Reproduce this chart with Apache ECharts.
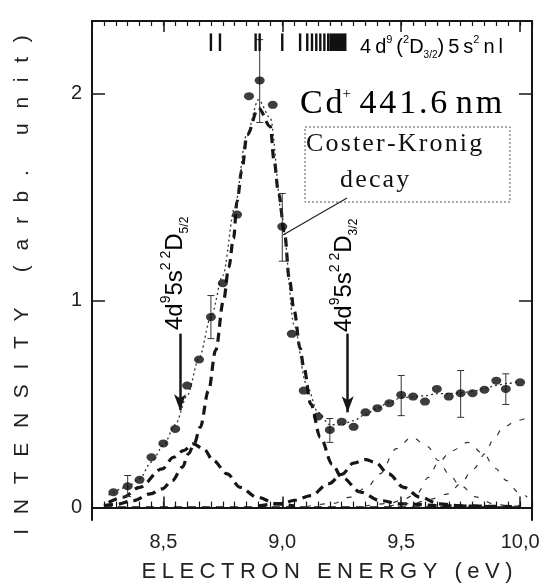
<!DOCTYPE html>
<html>
<head>
<meta charset="utf-8">
<script src="https://cdn.jsdelivr.net/npm/echarts@6/dist/echarts.min.js"></script>
<style>
    html, body { margin: 0; padding: 0; background: #fff; }
    #chart { width: 544px; height: 586px; }
</style>
</head>
<body>
<div id="chart"></div>
<script>
// measured spectrum (energy in eV, intensity in arb. units)
var pointE = [8.29, 8.35, 8.40, 8.45, 8.50, 8.55, 8.60, 8.65, 8.70, 8.75, 8.81, 8.86, 8.905, 8.96, 9.00, 9.04, 9.09, 9.15, 9.20, 9.25,
    9.30, 9.35, 9.40, 9.45, 9.50, 9.55, 9.60, 9.65, 9.70, 9.75, 9.80, 9.85, 9.90, 9.94, 10.00];
var pointI = [0.074, 0.103, 0.134, 0.243, 0.31, 0.38, 0.589, 0.715, 0.92, 1.084, 1.415, 1.987, 2.063, 1.945, 1.357, 0.839, 0.565, 0.44, 0.375, 0.415,
    0.39, 0.46, 0.48, 0.504, 0.544, 0.536, 0.512, 0.573, 0.536, 0.552, 0.552, 0.569, 0.613, 0.573, 0.605];

// error bars: energy, low, high
var errorBars = [[8.35, 0.053, 0.155], [8.70, 0.816, 1.024], [8.905, 1.86, 2.26], [9.00, 1.19, 1.517],
    [9.20, 0.315, 0.43], [9.50, 0.444, 0.638], [9.75, 0.436, 0.662], [9.94, 0.498, 0.646]];

// total fit (thin dotted)
var fitCurve = [[8.27, 0.06], [8.35, 0.10], [8.40, 0.14], [8.45, 0.22], [8.50, 0.30], [8.55, 0.40], [8.60, 0.54], [8.65, 0.72],
    [8.70, 0.92], [8.75, 1.12], [8.80, 1.45], [8.85, 1.80], [8.90, 1.97], [8.95, 1.88], [9.00, 1.40], [9.05, 0.88], [9.10, 0.60],
    [9.15, 0.46], [9.20, 0.40], [9.25, 0.40], [9.30, 0.42], [9.35, 0.45], [9.40, 0.48], [9.45, 0.51], [9.50, 0.53], [9.55, 0.535],
    [9.60, 0.54], [9.65, 0.55], [9.70, 0.55], [9.75, 0.555], [9.80, 0.56], [9.85, 0.575], [9.90, 0.59], [9.95, 0.60], [10.0, 0.61]];

// fitted components
var mainPeak = [[8.25, 0.01], [8.30, 0.015], [8.375, 0.034], [8.445, 0.066], [8.495, 0.09], [8.537, 0.13], [8.58, 0.195], [8.606, 0.26],
    [8.63, 0.31], [8.655, 0.388], [8.69, 0.565], [8.72, 0.76], [8.753, 1.0], [8.775, 1.16], [8.795, 1.3], [8.81, 1.48], [8.83, 1.63],
    [8.852, 1.8], [8.9, 1.93], [8.95, 1.84], [8.965, 1.68], [8.985, 1.515], [9.01, 1.32], [9.03, 1.1], [9.05, 0.95], [9.075, 0.77],
    [9.09, 0.68], [9.12, 0.5], [9.16, 0.34], [9.21, 0.21], [9.25, 0.146], [9.33, 0.074], [9.41, 0.034], [9.5, 0.018], [9.7, 0.008], [10.0, 0.004]];
var peak52 = [[8.27, 0.025], [8.33, 0.05], [8.40, 0.098], [8.495, 0.187], [8.543, 0.243], [8.585, 0.275], [8.625, 0.308], [8.67, 0.283],
    [8.71, 0.227], [8.768, 0.163], [8.823, 0.098], [8.894, 0.05], [8.978, 0.018], [9.05, 0.008]];
var peak32 = [[8.9, 0.008], [9.0, 0.02], [9.05, 0.035], [9.12, 0.058], [9.195, 0.115], [9.25, 0.16], [9.30, 0.215], [9.35, 0.232],
    [9.39, 0.219], [9.447, 0.163], [9.51, 0.098], [9.58, 0.05], [9.66, 0.018], [9.75, 0.008], [9.9, 0.003]];
var peakA = [[9.1, 0.005], [9.215, 0.02], [9.286, 0.05], [9.356, 0.098], [9.41, 0.163], [9.48, 0.285], [9.545, 0.34], [9.61, 0.295],
    [9.657, 0.227], [9.70, 0.163], [9.748, 0.106], [9.818, 0.05], [9.888, 0.018], [9.95, 0.008], [10.02, 0.004]];
var peakB = [[9.35, 0.008], [9.45, 0.02], [9.5, 0.035], [9.565, 0.066], [9.615, 0.146], [9.657, 0.22], [9.713, 0.275], [9.78, 0.315],
    [9.846, 0.26], [9.895, 0.19], [9.944, 0.13], [9.993, 0.074], [10.03, 0.05]];
var peakC = [[9.45, 0.008], [9.55, 0.02], [9.62, 0.04], [9.70, 0.066], [9.748, 0.114], [9.804, 0.187], [9.853, 0.26], [9.888, 0.33],
    [9.93, 0.388], [9.986, 0.42], [10.02, 0.43]];
var baseline = [[8.25, 0], [10.0, 0]];

// 4d9(2D3/2)5s2nl series limits: [from, to] in eV
var rydberg = [[8.70, 8.70], [8.738, 8.738], [8.888, 8.888], [8.905, 8.905], [9.0, 9.01], [9.075, 9.075], [9.105, 9.105],
    [9.125, 9.125], [9.143, 9.143], [9.16, 9.16], [9.177, 9.177], [9.193, 9.193], [9.203, 9.275]];

// arrows: energy, top, tip
var arrows = [[8.57, 0.84, 0.47], [9.275, 0.84, 0.46]];

var xTicksMajor = [8.5, 9.0, 9.5, 10.0];
var yTicks = [0, 1, 2];

var sans = 'Liberation Sans, Arial, sans-serif';
var serif = 'Liberation Serif, Times New Roman, serif';
var ink = '#161616';

function spaced(s, sp) {
    return s.split('').join(sp);
}

function pairs(xs, ys) {
    var out = [];
    for (var i = 0; i < xs.length; i++) out.push([xs[i], ys[i]]);
    return out;
}

function comp(data, thick) {
    return {
        type: 'line',
        data: data,
        smooth: 0.35,
        smoothMonotone: 'x',
        symbol: 'none',
        silent: true,
        lineStyle: thick
            ? {color: ink, width: 3.2, type: [9, 6]}
            : {color: '#333', width: 1.2, type: [5, 9]},
        z: 3
    };
}

var chart = echarts.init(document.getElementById('chart'));

var xBase = {min: 8.2, max: 10.05, splitLine: {show: false}, gridIndex: 0};
var yBase = {min: -0.06, max: 2.35, splitLine: {show: false}};

var hs = '\u200a';
var ts = '\u2009';

var option = {
    backgroundColor: '#fff',
    animation: false,
    grid: {left: 92, right: 12, top: 21, bottom: 66},
    xAxis: [
        Object.assign({}, xBase, {
            type: 'value', position: 'bottom', interval: 0.05,
            axisLine: {show: true, lineStyle: {color: ink, width: 2}},
            axisTick: {show: true, inside: true, length: 6, lineStyle: {color: ink, width: 1.2}},
            axisLabel: {
                color: '#222', fontFamily: sans, fontSize: 20, margin: 12,
                formatter: function (v) {
                    return Math.abs(v * 2 - Math.round(v * 2)) < 1e-6 ? v.toFixed(1).replace('.', ',') : '';
                }
            }
        }),
        Object.assign({}, xBase, {
            type: 'value', position: 'bottom',
            axisLine: {show: false},
            axisTick: {show: true, inside: true, length: 11, customValues: xTicksMajor, lineStyle: {color: ink, width: 1.5}},
            axisLabel: {show: false}
        }),
        Object.assign({}, xBase, {
            type: 'value', position: 'top', interval: 0.05,
            axisLine: {show: true, lineStyle: {color: ink, width: 2}},
            axisTick: {show: true, inside: true, length: 5, lineStyle: {color: ink, width: 1.2}},
            axisLabel: {show: false}
        }),
        Object.assign({}, xBase, {
            type: 'value', position: 'top',
            axisLine: {show: false},
            axisTick: {show: true, inside: true, length: 11, customValues: xTicksMajor, lineStyle: {color: ink, width: 1.5}},
            axisLabel: {show: false}
        })
    ],
    yAxis: [
        Object.assign({}, yBase, {
            type: 'value', position: 'left',
            axisLine: {show: true, lineStyle: {color: ink, width: 2}},
            axisTick: {show: true, inside: true, length: 13, customValues: yTicks, lineStyle: {color: ink, width: 1.5}},
            axisLabel: {color: '#222', fontFamily: sans, fontSize: 20, margin: 10, customValues: yTicks}
        }),
        Object.assign({}, yBase, {
            type: 'value', position: 'right',
            axisLine: {show: true, lineStyle: {color: ink, width: 2}},
            axisTick: {show: true, inside: true, length: 13, customValues: yTicks, lineStyle: {color: ink, width: 1.5}},
            axisLabel: {show: false}
        })
    ],
    series: [
        {
            type: 'line', data: baseline, symbol: 'none', silent: true,
            lineStyle: {color: ink, width: 2.5, type: [8, 6]}, z: 2
        },
        comp(mainPeak, true),
        comp(peak52, true),
        comp(peak32, true),
        comp(peakA, false),
        comp(peakB, false),
        comp(peakC, false),
        {
            type: 'line', data: fitCurve, smooth: 0.3, smoothMonotone: 'x', symbol: 'none', silent: true,
            lineStyle: {color: '#333', width: 1.3, type: [2, 3]}, z: 4
        },
        {
            type: 'custom',
            data: errorBars,
            encode: {x: 0, y: [1, 2]},
            silent: true,
            z: 5,
            renderItem: function (params, api) {
                var x = api.value(0);
                var lo = api.coord([x, api.value(1)]);
                var hi = api.coord([x, api.value(2)]);
                var c = 3.5;
                var st = {stroke: '#333', lineWidth: 1};
                return {
                    type: 'group',
                    children: [
                        {type: 'line', shape: {x1: lo[0], y1: lo[1], x2: hi[0], y2: hi[1]}, style: st},
                        {type: 'line', shape: {x1: lo[0] - c, y1: lo[1], x2: lo[0] + c, y2: lo[1]}, style: st},
                        {type: 'line', shape: {x1: hi[0] - c, y1: hi[1], x2: hi[0] + c, y2: hi[1]}, style: st}
                    ]
                };
            }
        },
        {
            type: 'custom',
            data: rydberg,
            encode: {x: [0, 1]},
            silent: true,
            z: 5,
            renderItem: function (params, api) {
                var a = api.coord([api.value(0), 2.29]);
                var b = api.coord([api.value(1), 2.205]);
                var w = Math.max(b[0] - a[0], 2.4);
                return {
                    type: 'rect',
                    shape: {x: a[0] - 1.2, y: a[1], width: w, height: b[1] - a[1]},
                    style: {fill: '#111'}
                };
            }
        },
        {
            type: 'scatter',
            data: pairs(pointE, pointI),
            symbol: 'circle',
            symbolSize: [10, 8],
            itemStyle: {color: '#0c0c0c'},
            silent: true,
            z: 6,
            markLine: {
                silent: true,
                symbol: ['none', 'arrow'],
                symbolSize: [9, 16],
                label: {show: false},
                lineStyle: {color: ink, width: 2.5, type: 'solid'},
                data: arrows.map(function (a) {
                    return [{coord: [a[0], a[1]]}, {coord: [a[0], a[2]]}];
                })
            }
        }
    ],
    graphic: [
        {
            type: 'text', x: 360, y: 47,
            style: {
                text: '{n|4' + ts + 'd}{sup|9}{n|' + ts + '(}{sup|2}{n|D}{sub|3/2}{n|)' + ts + '5' + ts + 's}{sup|2}{n|' + ts + 'n' + ts + 'l}',
                verticalAlign: 'middle',
                rich: {
                    n: {fontFamily: sans, fontSize: 20, color: '#222', lineHeight: 26, verticalAlign: 'middle'},
                    sup: {fontFamily: sans, fontSize: 11, color: '#222', verticalAlign: 'top'},
                    sub: {fontFamily: sans, fontSize: 10, color: '#222', verticalAlign: 'bottom'}
                }
            }
        },
        {
            type: 'text', x: 300, y: 104,
            style: {
                text: '{n|C' + hs + 'd}{sup|+}{n| ' + spaced('441.6', hs) + ' n' + hs + 'm}',
                verticalAlign: 'middle',
                rich: {
                    n: {fontFamily: serif, fontSize: 34, color: '#111', lineHeight: 34, verticalAlign: 'middle'},
                    sup: {fontFamily: serif, fontSize: 15, color: '#111', verticalAlign: 'top'}
                }
            }
        },
        {
            type: 'rect', shape: {x: 305, y: 127, width: 205, height: 75},
            style: {fill: 'none', stroke: '#555', lineWidth: 1, lineDash: [2, 2]}
        },
        {
            type: 'text', x: 306, y: 144,
            style: {text: spaced('Coster-Kronig', hs), fontFamily: serif, fontSize: 26, fill: '#111', verticalAlign: 'middle'}
        },
        {
            type: 'text', x: 340, y: 180,
            style: {text: spaced('decay', hs), fontFamily: serif, fontSize: 26, fill: '#111', verticalAlign: 'middle'}
        },
        {
            type: 'line', shape: {x1: 347, y1: 198, x2: 283, y2: 235},
            style: {stroke: '#222', lineWidth: 1.2}
        },
        {
            type: 'text', x: 175, y: 330, rotation: Math.PI / 2,
            style: {
                text: '{n|4d}{sup|9}{n|5s}{sup|2 2}{n|D}{sub|5/2}',
                verticalAlign: 'middle',
                rich: {
                    n: {fontFamily: sans, fontSize: 24, color: '#111', lineHeight: 31, verticalAlign: 'middle'},
                    sup: {fontFamily: sans, fontSize: 14, color: '#111', verticalAlign: 'top'},
                    sub: {fontFamily: sans, fontSize: 12, color: '#111', verticalAlign: 'bottom'}
                }
            }
        },
        {
            type: 'text', x: 344, y: 332, rotation: Math.PI / 2,
            style: {
                text: '{n|4d}{sup|9}{n|5s}{sup|2 2}{n|D}{sub|3/2}',
                verticalAlign: 'middle',
                rich: {
                    n: {fontFamily: sans, fontSize: 24, color: '#111', lineHeight: 31, verticalAlign: 'middle'},
                    sup: {fontFamily: sans, fontSize: 14, color: '#111', verticalAlign: 'top'},
                    sub: {fontFamily: sans, fontSize: 12, color: '#111', verticalAlign: 'bottom'}
                }
            }
        },
        {
            type: 'text', x: 327, y: 572,
            style: {
                text: spaced('ELECTRON ENERGY (eV)', '\u2005'),
                fontFamily: sans, fontSize: 22, fill: '#222', align: 'center', verticalAlign: 'middle'
            }
        },
        {
            type: 'text', x: 22, y: 285, rotation: Math.PI / 2,
            style: {
                text: spaced('INTENSITY (arb. unit)', '\u2002\u2009'),
                fontFamily: sans, fontSize: 21, fill: '#222', align: 'center', verticalAlign: 'middle'
            }
        }
    ]
};

chart.setOption(option);
</script>
</body>
</html>
